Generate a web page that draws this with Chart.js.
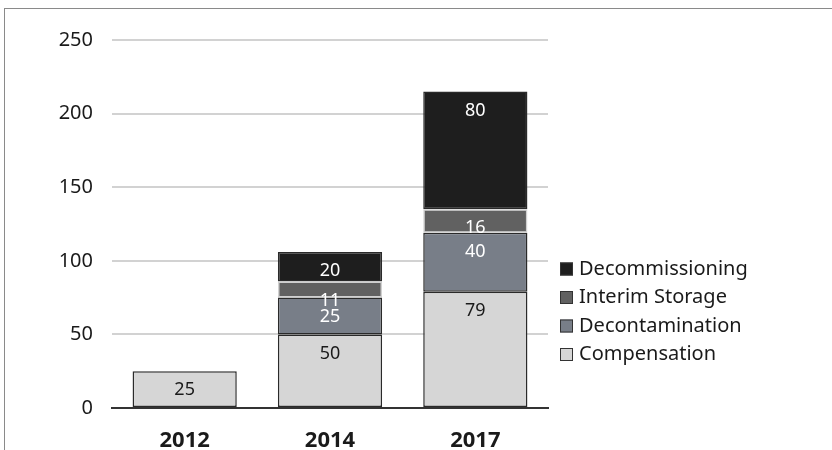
<!DOCTYPE html>
<html>
<head>
<meta charset="utf-8">
<script src="https://cdn.jsdelivr.net/npm/chart.js@4"></script>
<style>
  html, body { margin: 0; padding: 0; background: #fff; }
  #wrap { position: relative; width: 832px; height: 450px; }
  #frame { position: absolute; left: 4px; top: 8px; right: 0; bottom: 0;
           border-left: 1px solid #8a8a8a; border-top: 1px solid #8a8a8a; }
  canvas { position: absolute; left: 0; top: 0; }
</style>
</head>
<body>
<div id="wrap">
  <div id="frame"></div>
  <canvas id="costChart" width="832" height="450"></canvas>
</div>
<script>
// categories + stacked series (bottom to top)
var years = ['2012', '2014', '2017'];
var compensation = [25, 50, 79];
var decontamination = [null, 25, 40];
var interimStorage = [null, 11, 16];
var decommissioning = [null, 20, 80];
var yTicks = [0, 50, 100, 150, 200, 250];

var FONT = '"Noto Sans", "Open Sans", sans-serif';

var series = [
  {label: 'Compensation', data: compensation, bg: '#d6d6d6', border: '#2a2a2a', text: '#1a1a1a'},
  {label: 'Decontamination', data: decontamination, bg: '#787e88', border: '#2a2a2a', text: '#fff'},
  {label: 'Interim Storage', data: interimStorage, bg: '#616161', border: '#d0d0d0', text: '#fff'},
  {label: 'Decommissioning', data: decommissioning, bg: '#1e1e1e', border: '#2a2a2a', text: '#fff'}
];

// value labels near top of each segment
var segLabels = {
  id: 'segLabels',
  afterDatasetsDraw: function(chart) {
    var ctx = chart.ctx;
    ctx.save();
    ctx.font = '18px ' + FONT;
    ctx.textAlign = 'center';
    ctx.textBaseline = 'middle';
    chart.data.datasets.forEach(function(ds, i) {
      var meta = chart.getDatasetMeta(i);
      meta.data.forEach(function(el, j) {
        var v = ds.data[j];
        if (v == null) return;
        ctx.fillStyle = series[i].text;
        ctx.fillText(String(v), el.x, el.y + 19);
      });
    });
    ctx.restore();
  }
};

// legend on the right, reversed order
var sideLegend = {
  id: 'sideLegend',
  afterDraw: function(chart) {
    var ctx = chart.ctx;
    var x = 560, y0 = 269, step = 28.5, box = 13;
    ctx.save();
    ctx.font = '20px ' + FONT;
    ctx.textBaseline = 'middle';
    ctx.textAlign = 'left';
    series.slice().reverse().forEach(function(s, i) {
      var y = y0 + i * step;
      ctx.fillStyle = s.bg;
      ctx.fillRect(x, y - box / 2, box, box);
      ctx.strokeStyle = '#333';
      ctx.lineWidth = 1;
      ctx.strokeRect(x + 0.5, y - box / 2 + 0.5, box - 1, box - 1);
      ctx.fillStyle = '#1a1a1a';
      ctx.fillText(s.label, x + 19, y);
    });
    ctx.restore();
  }
};

new Chart(document.getElementById('costChart'), {
  type: 'bar',
  data: {
    labels: years,
    datasets: series.map(function(s) {
      return {
        label: s.label,
        data: s.data,
        backgroundColor: s.bg,
        borderColor: s.border,
        borderWidth: 1.5,
        borderSkipped: false,
        barPercentage: 0.717,
        categoryPercentage: 1
      };
    })
  },
  options: {
    responsive: false,
    animation: false,
    devicePixelRatio: 1,
    layout: { padding: { left: 0, right: 284, top: 40, bottom: 0 } },
    plugins: { legend: { display: false }, tooltip: { enabled: false } },
    scales: {
      x: {
        stacked: true,
        grid: { display: false },
        border: { display: true, color: '#333', width: 2 },
        ticks: { color: '#1a1a1a', font: { family: FONT, size: 22, weight: 'bold' }, padding: 12 },
        afterFit: function(s) { s.height = 42; }
      },
      y: {
        stacked: true,
        min: 0,
        max: 250,
        afterBuildTicks: function(s) { s.ticks = yTicks.map(function(v) { return {value: v}; }); },
        grid: {
          drawTicks: false,
          lineWidth: 2,
          color: function(c) { return c.tick && c.tick.value === 0 ? 'rgba(0,0,0,0)' : '#d2d2d2'; }
        },
        border: { display: false },
        ticks: { color: '#1a1a1a', font: { family: FONT, size: 20 }, padding: 19 },
        afterFit: function(s) { s.width = 112; }
      }
    }
  },
  plugins: [segLabels, sideLegend]
});
</script>
</body>
</html>
